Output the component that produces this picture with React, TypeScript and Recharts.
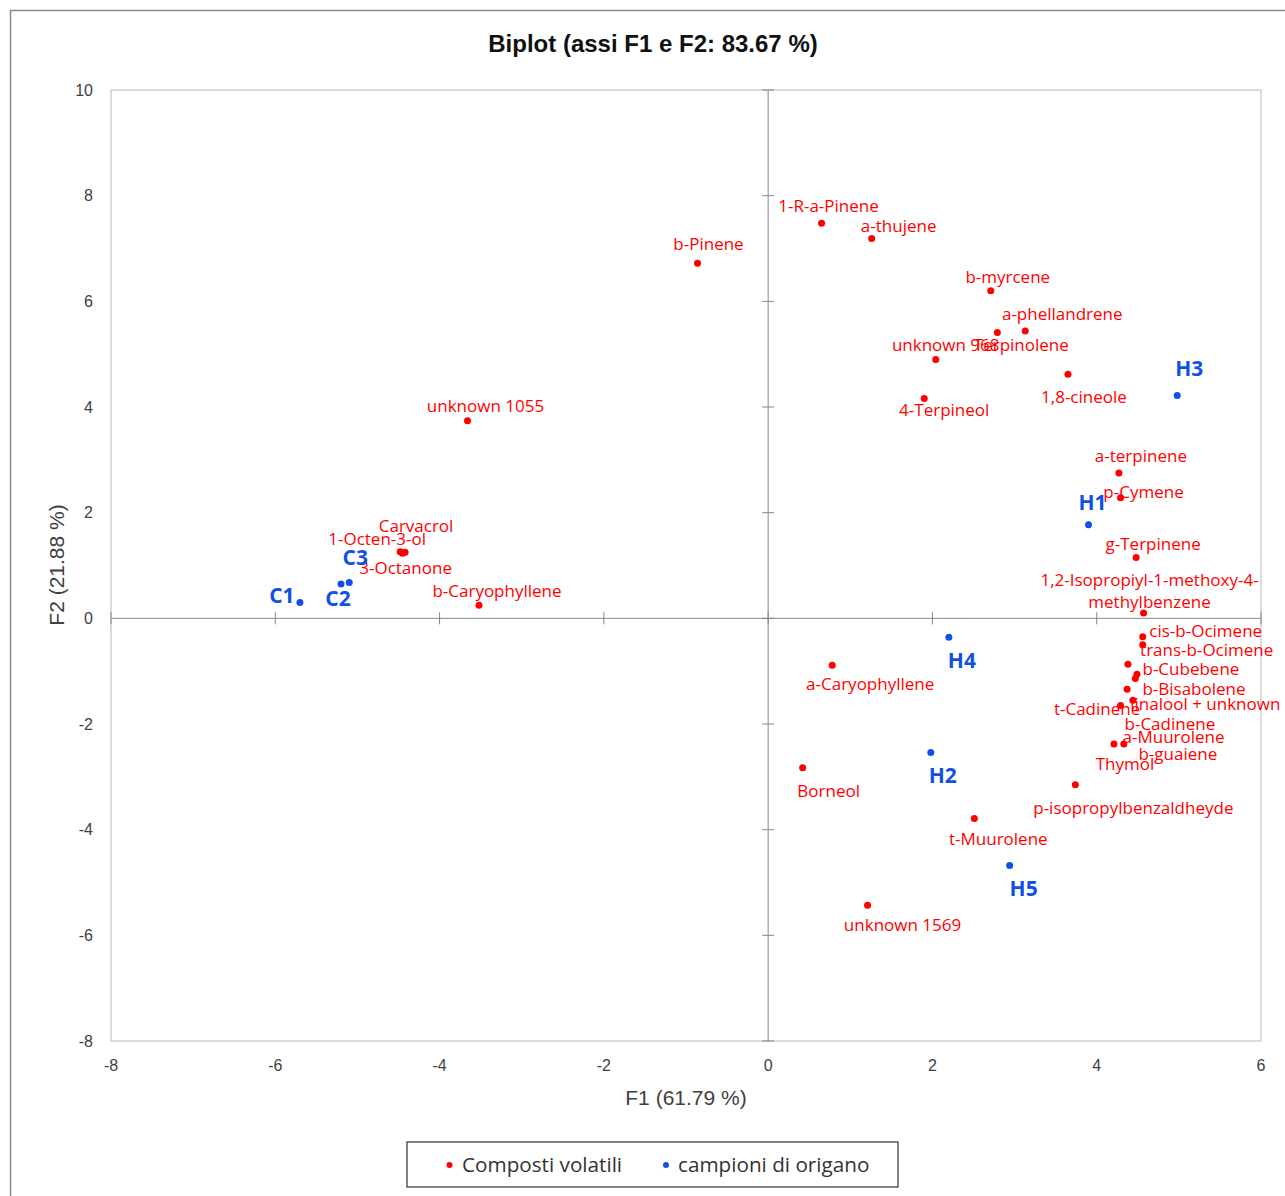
import React from 'react'
import { ScatterChart, Scatter, XAxis, YAxis, ReferenceLine, ReferenceArea } from 'recharts'

// volatile compounds (red)
const compoundNames = [
  'b-Pinene', '1-R-a-Pinene', 'a-thujene', 'b-myrcene', 'a-phellandrene', 'Terpinolene',
  'unknown 968', '1,8-cineole', '4-Terpineol', 'unknown 1055', 'Carvacrol', '1-Octen-3-ol',
  '3-Octanone', 'b-Caryophyllene', 'a-terpinene', 'p-Cymene', 'g-Terpinene',
  '1,2-Isopropiyl-1-methoxy-4-methylbenzene', 'cis-b-Ocimene', 'trans-b-Ocimene', 'b-Cubebene',
  'b-Bisabolene', 'linalool + unknown', 't-Cadinene', 'b-Cadinene', 'a-Muurolene', 'b-guaiene',
  'Thymol', 'p-isopropylbenzaldheyde', 'a-Caryophyllene', 'Borneol', 't-Muurolene', 'unknown 1569',
]
const compoundF1 = [
  -0.86, 0.65, 1.26, 2.71, 3.13, 2.79,
  2.04, 3.65, 1.90, -3.66, -4.42, -4.48,
  -4.45, -3.52, 4.27, 4.29, 4.48,
  4.57, 4.56, 4.56, 4.38,
  4.49, 4.47, 4.37, 4.44, 4.29, 4.33,
  4.21, 3.74, 0.78, 0.42, 2.51, 1.21,
]
const compoundF2 = [
  6.72, 7.48, 7.19, 6.20, 5.44, 5.41,
  4.90, 4.62, 4.16, 3.74, 1.25, 1.26,
  1.23, 0.25, 2.75, 2.28, 1.15,
  0.10, -0.35, -0.50, -0.87,
  -1.06, -1.14, -1.34, -1.55, -1.65, -2.38,
  -2.38, -3.15, -0.89, -2.83, -3.79, -5.43,
]

// oregano samples (blue)
const sampleNames = ['H1', 'H2', 'H3', 'H4', 'H5', 'C1', 'C2', 'C3']
const sampleF1 = [3.90, 1.98, 4.98, 2.20, 2.94, -5.70, -5.20, -5.10]
const sampleF2 = [1.77, -2.54, 4.22, -0.36, -4.68, 0.30, 0.65, 0.68]

const xTicks = [-8, -6, -4, -2, 0, 2, 4, 6]
const yTicks = [-8, -6, -4, -2, 0, 2, 4, 6, 8, 10]

const compounds = compoundNames.map((name, i) => ({ name, f1: compoundF1[i], f2: compoundF2[i] }))
const samples = sampleNames.map((name, i) => ({ name, f1: sampleF1[i], f2: sampleF2[i] }))

// label placement relative to the point (px), hand-tuned like the Excel original
const labelPos: Record<string, [number, number]> = {
  'b-Pinene': [11, -19], '1-R-a-Pinene': [7, -17], 'a-thujene': [27, -12], 'b-myrcene': [17, -14],
  'a-phellandrene': [37, -17], 'Terpinolene': [24, 13], 'unknown 968': [10, -14], '1,8-cineole': [16, 23],
  '4-Terpineol': [20, 12], 'unknown 1055': [18, -15], 'Carvacrol': [11, -26], '1-Octen-3-ol': [-23, -13],
  '3-Octanone': [3, 15], 'b-Caryophyllene': [18, -14], 'a-terpinene': [22, -17], 'p-Cymene': [23, -6],
  'g-Terpinene': [17, -14], '1,2-Isopropiyl-1-methoxy-4-methylbenzene': [6, -33],
  'cis-b-Ocimene': [63, -6], 'trans-b-Ocimene': [64, 5], 'b-Cubebene': [63, 5], 'b-Bisabolene': [57, 15],
  'linalool + unknown': [70, 25], 't-Cadinene': [-30, 20], 'b-Cadinene': [37, 24], 'a-Muurolene': [53, 32],
  'b-guaiene': [54, 10], 'Thymol': [11, 20], 'p-isopropylbenzaldheyde': [58, 23],
  'a-Caryophyllene': [38, 19], 'Borneol': [26, 23], 't-Muurolene': [24, 20], 'unknown 1569': [35, 20],
  H1: [4, -22], H2: [12, 23], H3: [12, -27], H4: [13, 23], H5: [14, 23],
  C1: [-18, -7], C2: [-3, 15], C3: [6, -25],
}
const wrapped: Record<string, string[]> = {
  '1,2-Isopropiyl-1-methoxy-4-methylbenzene': ['1,2-Isopropiyl-1-methoxy-4-', 'methylbenzene'],
}

const RED = '#ff0000'
const BLUE = '#1150e6'
const AXIS_TEXT = '#404040'

function makeShape(color: string, textColor: string, bold: boolean, size: number) {
  return (props: any) => {
    const { cx, cy, payload } = props
    const [dx, dy] = labelPos[payload.name] ?? [0, -16]
    const lines = wrapped[payload.name] ?? [payload.name]
    return (
      <g>
        <circle cx={cx} cy={cy} r={3.5} fill={color} />
        {lines.map((line, i) => (
          <text
            key={i}
            x={cx + dx}
            y={cy + dy + i * 22}
            dy="0.35em"
            textAnchor="middle"
            fill={textColor}
            fontFamily="'Open Sans', sans-serif"
            fontSize={size}
            fontWeight={bold ? 700 : 400}
          >
            {line}
          </text>
        ))}
      </g>
    )
  }
}

export default function App() {
  return (
    <div style={{ position: 'absolute', left: 0, top: 0, width: 1285, height: 1196, overflow: 'hidden', background: '#fff' }}>
      <ScatterChart width={1285} height={1196} margin={{ top: 90, right: 24, bottom: 115, left: 11 }}>
        <ReferenceArea x1={-8} x2={6} y1={-8} y2={10} fill="none" stroke="#d0d0d0" strokeWidth={1.5} />
        <XAxis
          type="number"
          dataKey="f1"
          domain={[-8, 6]}
          ticks={xTicks}
          height={40}
          axisLine={false}
          tickLine={false}
          tickSize={6}
          tickMargin={13}
          tick={{ fill: AXIS_TEXT, fontSize: 16, fontFamily: "'Liberation Sans', Arial, sans-serif" }}
        />
        <YAxis
          type="number"
          dataKey="f2"
          domain={[-8, 10]}
          ticks={yTicks}
          width={100}
          axisLine={false}
          tickLine={false}
          tickSize={6}
          tickMargin={12}
          tick={{ fill: AXIS_TEXT, fontSize: 16, fontFamily: "'Liberation Sans', Arial, sans-serif" }}
        />
        <ReferenceLine x={0} stroke="#868686" strokeWidth={1} />
        <ReferenceLine y={0} stroke="#868686" strokeWidth={1} />
        {yTicks.map((v) => (
          <ReferenceLine key={'yt' + v} segment={[{ x: -0.073, y: v }, { x: 0.073, y: v }]} stroke="#868686" />
        ))}
        {xTicks.map((v) => (
          <ReferenceLine key={'xt' + v} segment={[{ x: v, y: -0.114 }, { x: v, y: 0.114 }]} stroke="#868686" />
        ))}
        <Scatter
          name="Composti volatili"
          data={compounds}
          fill={RED}
          shape={makeShape(RED, RED, false, 17)}
          isAnimationActive={false}
        />
        <Scatter
          name="campioni di origano"
          data={samples}
          fill={BLUE}
          shape={makeShape(BLUE, BLUE, true, 21)}
          isAnimationActive={false}
        />
      </ScatterChart>
      <svg width={1285} height={1196} style={{ position: 'absolute', left: 0, top: 0, pointerEvents: 'none' }}>
        <line x1={10} y1={10.5} x2={1285} y2={10.5} stroke="#8a8a8a" strokeWidth={1.5} />
        <line x1={10.5} y1={10} x2={10.5} y2={1196} stroke="#8a8a8a" strokeWidth={1.5} />
        <text x={653} y={44} dy="0.35em" textAnchor="middle" fontFamily="'Liberation Sans', Arial, sans-serif" fontWeight={700} fontSize={24} fill="#111">
          Biplot (assi F1 e F2: 83.67 %)
        </text>
        <text x={686} y={1098} dy="0.35em" textAnchor="middle" fontFamily="'Liberation Sans', Arial, sans-serif" fontSize={21} fill={AXIS_TEXT}>
          F1 (61.79 %)
        </text>
        <text
          x={57}
          y={565}
          dy="0.35em"
          textAnchor="middle"
          transform="rotate(-90 57 565)"
          fontFamily="'Liberation Sans', Arial, sans-serif"
          fontSize={21}
          fill={AXIS_TEXT}
        >
          F2 (21.88 %)
        </text>
        <rect x={407} y={1142} width={491} height={45} fill="#fff" stroke="#404040" strokeWidth={1.3} />
        <circle cx={449.5} cy={1165} r={3} fill={RED} />
        <text x={462} y={1165} dy="0.35em" fontFamily="'Open Sans', sans-serif" fontSize={20.7} fill="#333">
          Composti volatili
        </text>
        <circle cx={666} cy={1165} r={3} fill={BLUE} />
        <text x={678} y={1165} dy="0.35em" fontFamily="'Open Sans', sans-serif" fontSize={20.7} fill="#333">
          campioni di origano
        </text>
      </svg>
    </div>
  )
}
